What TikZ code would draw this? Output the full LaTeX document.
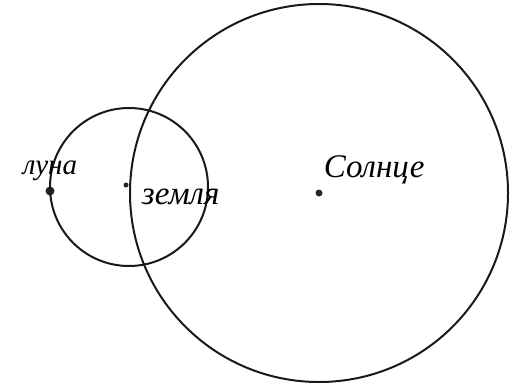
\documentclass[tikz,border=0pt]{standalone}
\usepackage{fontspec}
\setmainfont{Liberation Serif}
\usetikzlibrary{positioning}
\begin{document}
\begin{tikzpicture}[
	x=1pt, y=-1pt,
	node distance=2pt and 2pt,
	orbit/.style={
		draw=black!90,
		line width=2pt
	},
	body/.style={
		circle,
		fill=black!85,
		inner sep=0pt
	},
	bodytext/.style={
		font=\itshape\fontsize{33}{33}\selectfont,
		inner sep=0pt
	}
	]
	\useasboundingbox (0,0) rectangle (513,385);
	\node[body, minimum size=7pt] (sun) at (319,193) {};
	\node[body, minimum size=5pt] (earth) at (126,185) {};
	\node[body, minimum size=9pt] (moon) at (50,191) {};
	\draw[orbit] (sun.center) circle (189);
	\draw[orbit] (129,187) circle (79);
	\node[bodytext, font=\itshape\fontsize{29}{29}\selectfont, above=5pt of moon] (moontext) {луна};
	\node[bodytext, right=13pt of earth, yshift=-12pt] (earthtext) {земля};
	\node[bodytext, above right=6pt and 2pt of sun] (suntext) {Солнце};
\end{tikzpicture}
\end{document}
